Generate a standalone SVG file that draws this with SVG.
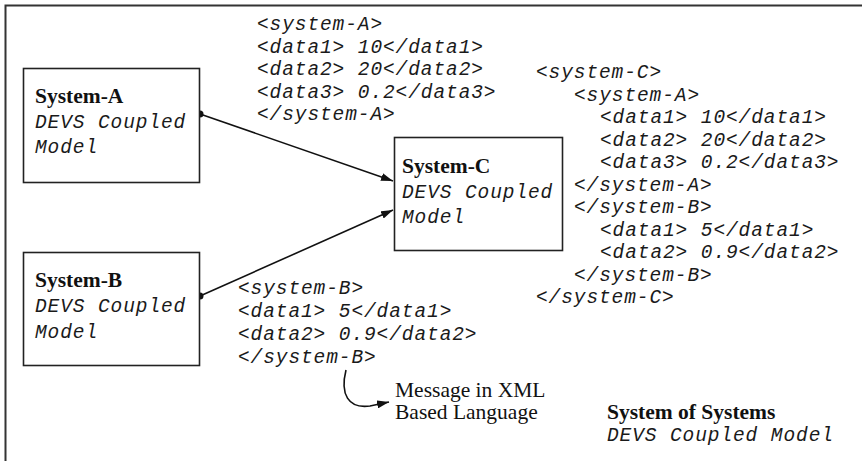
<svg xmlns="http://www.w3.org/2000/svg" width="862" height="461" viewBox="0 0 862 461">
<defs>
<style>
.box{fill:#fff;stroke:#222;stroke-width:1.6}
.title{font-family:"Liberation Serif",serif;font-weight:bold;font-size:21.5px;fill:#111}
.serif{font-family:"Liberation Serif",serif;font-size:21.5px;fill:#111}
.mono{font-family:"Liberation Mono",monospace;font-style:italic;font-size:19.5px;letter-spacing:0.9px;fill:#1a1a1a}
.conn{fill:none;stroke:#111;stroke-width:1.6}
</style>
<marker id="arr" viewBox="0 0 12 8" refX="12" refY="4" markerWidth="12" markerHeight="8" markerUnits="userSpaceOnUse" orient="auto">
<path d="M0,0 L12,4 L0,8 z" fill="#111"/>
</marker>
</defs>
<rect x="5.5" y="5.5" width="880" height="480" fill="#fff" stroke="#333" stroke-width="2"/>

<g id="connectors">
<line class="conn" x1="200" y1="114" x2="393" y2="181" marker-end="url(#arr)"/>
<circle cx="200" cy="114" r="3.5" fill="#111"/>
<line class="conn" x1="200" y1="296" x2="393" y2="210" marker-end="url(#arr)"/>
<circle cx="200" cy="296" r="3.5" fill="#111"/>
<path class="conn" d="M346,370 C340,394 348,409 370,406 L389,402" marker-end="url(#arr)"/>
</g>

<g id="system-a">
<rect class="box" x="23.5" y="68.5" width="176" height="114"/>
<text class="title" x="35" y="103">System-A</text>
<text class="mono" x="35" y="128">DEVS Coupled</text>
<text class="mono" x="35" y="153">Model</text>
</g>

<g id="system-b">
<rect class="box" x="23.5" y="252.5" width="176" height="113"/>
<text class="title" x="35" y="287">System-B</text>
<text class="mono" x="35" y="312">DEVS Coupled</text>
<text class="mono" x="35" y="338">Model</text>
</g>

<g id="system-c">
<rect class="box" x="394.5" y="137.5" width="168" height="113"/>
<text class="title" x="402" y="173">System-C</text>
<text class="mono" x="402" y="198">DEVS Coupled</text>
<text class="mono" x="402" y="223">Model</text>
</g>

<g id="msg-a">
<text class="mono" x="257" y="30">&lt;system-A&gt;</text>
<text class="mono" x="257" y="53">&lt;data1&gt; 10&lt;/data1&gt;</text>
<text class="mono" x="257" y="75">&lt;data2&gt; 20&lt;/data2&gt;</text>
<text class="mono" x="257" y="98">&lt;data3&gt; 0.2&lt;/data3&gt;</text>
<text class="mono" x="257" y="120">&lt;/system-A&gt;</text>
</g>

<g id="msg-b">
<text class="mono" x="238" y="294">&lt;system-B&gt;</text>
<text class="mono" x="238" y="317">&lt;data1&gt; 5&lt;/data1&gt;</text>
<text class="mono" x="238" y="340">&lt;data2&gt; 0.9&lt;/data2&gt;</text>
<text class="mono" x="238" y="363">&lt;/system-B&gt;</text>
</g>

<g id="msg-c">
<text class="mono" x="536" y="78">&lt;system-C&gt;</text>
<text class="mono" x="574" y="101">&lt;system-A&gt;</text>
<text class="mono" x="600" y="123">&lt;data1&gt; 10&lt;/data1&gt;</text>
<text class="mono" x="600" y="146">&lt;data2&gt; 20&lt;/data2&gt;</text>
<text class="mono" x="600" y="168">&lt;data3&gt; 0.2&lt;/data3&gt;</text>
<text class="mono" x="574" y="191">&lt;/system-A&gt;</text>
<text class="mono" x="574" y="213">&lt;/system-B&gt;</text>
<text class="mono" x="600" y="236">&lt;data1&gt; 5&lt;/data1&gt;</text>
<text class="mono" x="600" y="258">&lt;data2&gt; 0.9&lt;/data2&gt;</text>
<text class="mono" x="574" y="281">&lt;/system-B&gt;</text>
<text class="mono" x="536" y="303">&lt;/system-C&gt;</text>
</g>

<g id="note">
<text class="serif" x="395" y="397">Message in XML</text>
<text class="serif" x="395" y="419">Based Language</text>
</g>

<g id="sos">
<text class="title" x="607" y="419">System of Systems</text>
<text class="mono" x="607" y="441">DEVS Coupled Model</text>
</g>
</svg>
